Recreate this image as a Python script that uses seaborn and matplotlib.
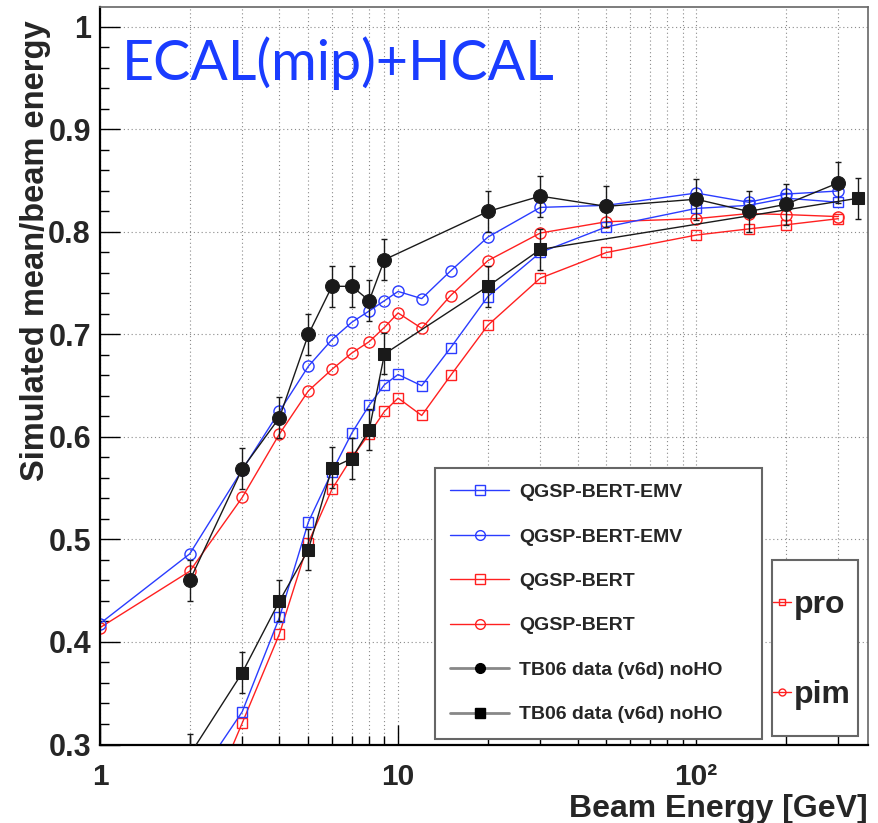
import matplotlib
matplotlib.use("Agg")
import numpy as np
import pandas as pd
import matplotlib.pyplot as plt
import seaborn as sns
from matplotlib.lines import Line2D
from matplotlib.patches import Rectangle
from matplotlib.ticker import FixedLocator, FixedFormatter, NullFormatter, MultipleLocator, FuncFormatter, LogLocator

# simulated pions (pim): QGSP-BERT-EMV and QGSP-BERT
e_pim_sim = [1, 2, 3, 4, 5, 6, 7, 8, 9, 10, 12, 15, 20, 30, 50, 100, 150, 200, 300]
emv_pim = [0.418, 0.486, 0.568, 0.625, 0.669, 0.695, 0.712, 0.723, 0.733, 0.742,
           0.735, 0.762, 0.795, 0.824, 0.826, 0.838, 0.829, 0.837, 0.840]
bert_pim = [0.414, 0.469, 0.541, 0.603, 0.645, 0.666, 0.682, 0.693, 0.707, 0.721,
            0.706, 0.738, 0.772, 0.799, 0.810, 0.813, 0.818, 0.817, 0.815]

# simulated protons (pro)
e_pro_sim = [2, 3, 4, 5, 6, 7, 8, 9, 10, 12, 15, 20, 30, 50, 100, 150, 200, 300]
emv_pro = [0.256, 0.332, 0.424, 0.517, 0.566, 0.604, 0.631, 0.651, 0.661, 0.650,
           0.687, 0.737, 0.780, 0.805, 0.823, 0.826, 0.833, 0.829]
bert_pro = [0.200, 0.321, 0.408, 0.497, 0.549, 0.580, 0.603, 0.625, 0.638, 0.621,
            0.660, 0.709, 0.755, 0.780, 0.797, 0.803, 0.807, 0.813]

# TB06 data
e_pim_data = [2, 3, 4, 5, 6, 7, 8, 9, 20, 30, 50, 100, 150, 200, 300]
data_pim = [0.460, 0.569, 0.619, 0.700, 0.747, 0.747, 0.733, 0.773, 0.820, 0.835,
            0.825, 0.832, 0.820, 0.827, 0.848]
err_pim = [0.02] * len(e_pim_data)

e_pro_data = [2, 3, 4, 5, 6, 7, 8, 9, 20, 30, 350]
data_pro = [0.290, 0.370, 0.440, 0.490, 0.570, 0.579, 0.607, 0.681, 0.747, 0.783, 0.833]
err_pro = [0.02] * len(e_pro_data)

legend_labels = ["QGSP-BERT-EMV", "QGSP-BERT-EMV", "QGSP-BERT", "QGSP-BERT",
                 "TB06 data (v6d) noHO", "TB06 data (v6d) noHO"]
x_tick_labels = ["1", "10", "10\u00b2"]

BLUE = "#2a3cff"
RED = "#ff2020"
BLACK = "#1a1a1a"

sns.set_theme(style="ticks")
plt.rcParams["font.family"] = ["Liberation Sans", "DejaVu Sans"]
plt.rcParams["font.weight"] = "bold"

fig = plt.figure(figsize=(8.79, 8.23), dpi=100)
ax = fig.add_axes([100 / 879, 1 - 744.5 / 823, 768 / 879, 737.5 / 823])
ax.set_xscale("log")

open_kw = dict(markerfacecolor="none", markeredgewidth=1.0, linewidth=1.0, errorbar=None)

sns.lineplot(x=e_pim_sim, y=bert_pim, ax=ax, color=RED, marker="o", markersize=8,
             markeredgecolor=RED, **open_kw)
sns.lineplot(x=e_pro_sim, y=bert_pro, ax=ax, color=RED, marker="s", markersize=7.5,
             markeredgecolor=RED, **open_kw)
sns.lineplot(x=e_pim_sim, y=emv_pim, ax=ax, color=BLUE, marker="o", markersize=8,
             markeredgecolor=BLUE, **open_kw)
sns.lineplot(x=e_pro_sim, y=emv_pro, ax=ax, color=BLUE, marker="s", markersize=7.5,
             markeredgecolor=BLUE, **open_kw)

ax.errorbar(e_pim_data, data_pim, yerr=err_pim, fmt="none", ecolor=BLACK,
            elinewidth=1, capsize=2.5, zorder=3)
ax.errorbar(e_pro_data, data_pro, yerr=err_pro, fmt="none", ecolor=BLACK,
            elinewidth=1, capsize=2.5, zorder=3)
sns.lineplot(x=e_pim_data, y=data_pim, ax=ax, color=BLACK, marker="o", markersize=10,
             markeredgecolor=BLACK, markerfacecolor=BLACK, linewidth=1.0,
             errorbar=None, zorder=4)
sns.lineplot(x=e_pro_data, y=data_pro, ax=ax, color=BLACK, marker="s", markersize=8.5,
             markeredgecolor=BLACK, markerfacecolor=BLACK, linewidth=1.0,
             errorbar=None, zorder=4)

ax.set_xlim(1, 377)
ax.set_ylim(0.3, 1.0195)
ax.set_xlabel("")
ax.set_ylabel("")

# axes, ticks, grid in ROOT look
ax.xaxis.set_major_locator(FixedLocator([1, 10, 100]))
ax.xaxis.set_major_formatter(FixedFormatter(x_tick_labels))
ax.xaxis.set_minor_locator(LogLocator(base=10, subs=np.arange(2, 10)))
ax.xaxis.set_minor_formatter(NullFormatter())
ax.yaxis.set_major_locator(MultipleLocator(0.1))
ax.yaxis.set_minor_locator(MultipleLocator(0.02))
ax.yaxis.set_major_formatter(FuncFormatter(lambda v, p: "1" if abs(v - 1) < 1e-6 else f"{v:.1f}"))

ax.tick_params(which="major", direction="in", length=14.4, width=1.0, color="black",
               labelsize=22, top=False, right=False)
ax.tick_params(which="minor", direction="in", length=6.5, width=1.0, color="black",
               top=False, right=False)
ax.tick_params(axis="x", which="major", pad=13, labelsize=21.5)
ax.tick_params(axis="y", which="major", pad=6.5)

grid_kw = dict(color="#8a8a8a", linestyle=(0, (1, 2.5)), linewidth=0.8)
ax.grid(True, which="major", axis="both", **grid_kw)
ax.grid(True, which="minor", axis="x", **grid_kw)
ax.set_axisbelow(True)

for s in ["left", "bottom"]:
    ax.spines[s].set_color("black")
    ax.spines[s].set_linewidth(1.6)
for s in ["top", "right"]:
    ax.spines[s].set_color("#666666")
    ax.spines[s].set_linewidth(1.2)

# main legend
handles = [
    Line2D([], [], color=BLUE, lw=1, marker="s", ms=7, mfc="none", mec=BLUE),
    Line2D([], [], color=BLUE, lw=1, marker="o", ms=7, mfc="none", mec=BLUE),
    Line2D([], [], color=RED, lw=1, marker="s", ms=7, mfc="none", mec=RED),
    Line2D([], [], color=RED, lw=1, marker="o", ms=7, mfc="none", mec=RED),
    Line2D([], [], color="#888888", lw=2, marker="o", ms=7, mfc="black", mec="black"),
    Line2D([], [], color="#888888", lw=2, marker="s", ms=7, mfc="black", mec="black"),
]
leg1 = ax.legend(handles, legend_labels, loc="upper left",
                 bbox_to_anchor=(0.436, 0.0115, 0.426, 0.3635), mode="expand",
                 borderaxespad=0, fontsize=14, labelspacing=1.38, borderpad=0.8,
                 handlelength=3.0, handletextpad=0.55, fancybox=False,
                 edgecolor="#666666", framealpha=1)
leg1.get_frame().set_linewidth(1.5)
leg1.set_zorder(6)

# pro / pim box
box = Rectangle((0.875, 0.0115), 0.112, 0.2386, transform=ax.transAxes,
                facecolor="white", edgecolor="#666666", linewidth=1.5, zorder=5)
ax.add_patch(box)
h2 = [Line2D([], [], color=RED, lw=1, marker="s", ms=5, mfc="none", mec=RED),
      Line2D([], [], color=RED, lw=1, marker="o", ms=5, mfc="none", mec=RED)]
leg2 = ax.legend(h2, ["pro", "pim"], loc="center",
                 bbox_to_anchor=(0.927, 0.128), frameon=False, fontsize=23,
                 labelspacing=1.9, handlelength=0.55, handletextpad=0.1,
                 borderaxespad=0)
leg2.set_zorder(6)
ax.add_artist(leg1)

# titles
fig.text(122 / 879, 1 - 80 / 823, "ECAL(mip)+HCAL", family="Lato", weight="normal",
         fontsize=40, color="#1a3cff", ha="left", va="baseline")
fig.text(36 / 879, 1 - 20 / 823, "Simulated mean/beam energy", rotation=90,
         ha="center", va="top", fontsize=23.5, weight="bold")
fig.text(868 / 879, 1 - 817 / 823, "Beam Energy [GeV]", ha="right", va="baseline",
         fontsize=23, weight="bold")

fig.savefig("out.png", dpi=100)
